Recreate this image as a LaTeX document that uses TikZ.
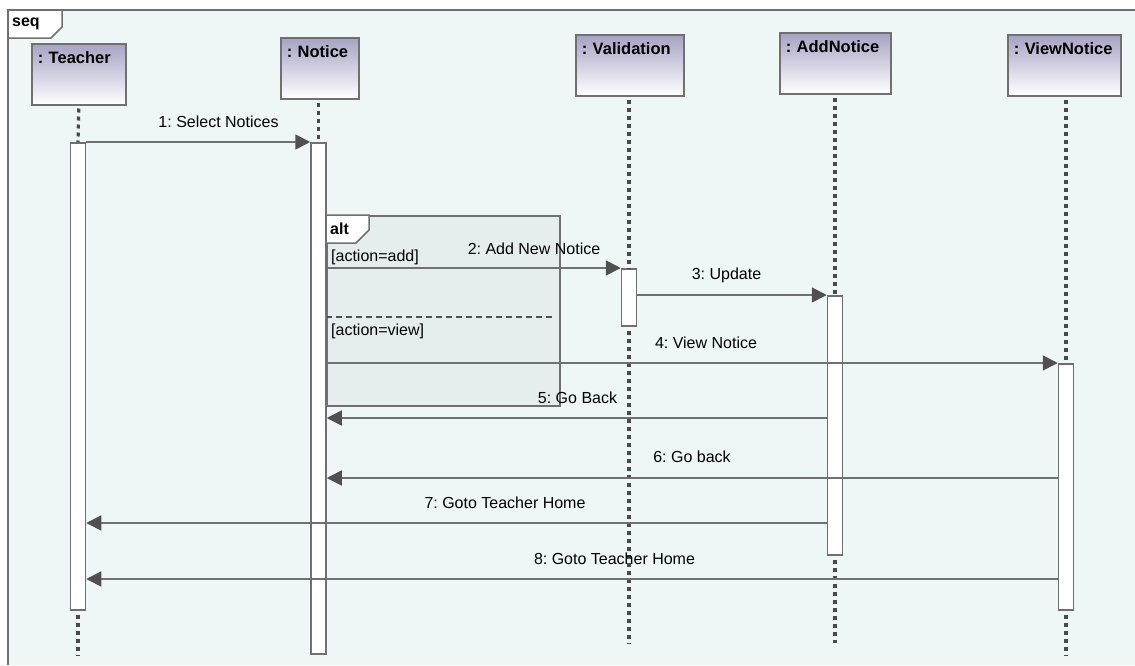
\documentclass[tikz,border=0pt]{standalone}
\usepackage{fontspec}
\setmainfont{Liberation Sans}
\usetikzlibrary{arrows.meta}
\definecolor{bgc}{HTML}{EEF6F6}
\definecolor{altc}{HTML}{E5EDED}
\definecolor{linec}{HTML}{707070}
\definecolor{headc}{HTML}{A6A2C3}
\definecolor{tipc}{HTML}{505050}
\definecolor{lifec}{HTML}{4A4A4A}
\frenchspacing

\begin{document}
\begin{tikzpicture}[x=1pt,y=-1pt,
  every node/.style={font=\fontsize{16}{18}\selectfont},
  head/.style={draw=linec, line width=1.5pt, top color=headc, bottom color=white,
    anchor=north west, inner ysep=0pt, inner xsep=6pt, align=left,
    text height=20pt, text depth=41pt, font=\fontsize{16.5}{18}\selectfont\bfseries},
  bar/.style={draw=linec, line width=1.5pt, fill=white, minimum width=15pt,
    inner sep=0pt, anchor=north},
  life/.style={draw=lifec, line width=3.2pt, dash pattern=on 4pt off 4pt},
  msg/.style={draw=linec, line width=1.6pt, -{Triangle[length=15pt,width=15pt,color=tipc]}},
  lbl/.style={inner sep=0pt},
  tabtext/.style={inner sep=0pt, anchor=west, font=\fontsize{16}{18}\selectfont\bfseries},
]
\useasboundingbox (0,0) rectangle (1135,665);

% sequence frame
\fill[bgc] (8,10) rectangle (1135,665);
\draw[linec, line width=1.5pt] (8,665) -- (8,10) -- (1135,10);
\draw[linec, line width=1.5pt, fill=white] (8,10) -- (62,10) -- (62,27) -- (51,38) -- (8,38) -- cycle;
\node[tabtext] (seqlbl) at (12,24) {seq};

% lifeline heads
\node[head, text width=82pt]  (teacher) at (31,43)   {\mbox{: Teacher}};
\node[head, text width=66pt]  (notice)  at (280,37)  {\mbox{: Notice}};
\node[head, text width=96pt]  (valid)   at (575,34)  {\mbox{: Validation}};
\node[head, text width=99pt]  (addn)    at (779,32)  {\mbox{: AddNotice}};
\node[head, text width=101pt] (viewn)   at (1007,34) {\mbox{: ViewNotice}};

% alt combined fragment
\node[draw=linec, line width=1.5pt, fill=altc, minimum width=233pt, minimum height=190pt,
  anchor=north west, inner sep=0pt] (alt) at (326,215) {};
\draw[linec, line width=1.5pt, fill=white] (alt.north west) -- ++(43,0) -- ++(0,15)
  -- ++(-13,13) -- ++(-30,0) -- cycle;
\node[tabtext] (altlbl) at (330,229) {alt};
\coordinate (sepL) at (326,317);
\coordinate (sepR) at (553,317);
\draw[tipc, line width=1.6pt, dash pattern=on 6pt off 4pt] (sepL) -- (sepR);
\node[lbl, anchor=west] (g1) at (331,257) {[action=add]};
\node[lbl, anchor=west] (g2) at (331,331) {[action=view]};

% activation bars
\node[bar, minimum height=467pt] (tA) at (78,142)    {};
\node[bar, minimum height=511pt] (nA) at (318.5,142) {};
\node[bar, minimum height=57pt]  (vA) at (629,268)   {};
\node[bar, minimum height=259pt] (aA) at (835,295)   {};
\node[bar, minimum height=246pt] (wA) at (1066,363)  {};

% lifelines
\draw[life] ([yshift=-3pt]teacher.south) -- (tA.north);
\draw[life] ([yshift=-3pt]nA.north |- notice.south) -- (nA.north);
\draw[life] ([yshift=-3pt]vA.north |- valid.south) -- (vA.north);
\draw[life] ([yshift=-3pt]aA.north |- addn.south) -- (aA.north);
\draw[life] ([yshift=-3pt]wA.north |- viewn.south) -- (wA.north);
\coordinate (tEnd) at (78,656);
\coordinate (vEnd) at (629,643);
\coordinate (aEnd) at (835,643);
\coordinate (wEnd) at (1066,655);
\draw[life] ([yshift=-4pt]tA.south) -- (tEnd);
\draw[life] ([yshift=-4pt]vA.south) -- (vEnd);
\draw[life] ([yshift=-4pt]aA.south) -- (aEnd);
\draw[life] ([yshift=-4pt]wA.south) -- (wEnd);

% messages
\draw[msg] (tA.north east) -- (nA.north west);
\draw[msg] (nA.east |- vA.north) -- (vA.north west);
\draw[msg] (vA.east |- aA.north) -- (aA.north west);
\draw[msg] (nA.east |- wA.north) -- (wA.north west);
\draw[msg] (aA.west |- 0,418) -- (nA.east |- 0,418);
\draw[msg] (wA.west |- 0,478) -- (nA.east |- 0,478);
\draw[msg] (aA.west |- 0,523) -- (tA.east |- 0,523);
\draw[msg] (wA.west |- 0,579) -- (tA.east |- 0,579);

% message labels
\node[lbl] (m1) at (218.5,122) {1: Select Notices};
\node[lbl] (m2) at (534,249)   {2: Add New Notice};
\node[lbl] (m3) at (726.5,275) {3: Update};
\node[lbl] (m4) at (706,343)   {4: View Notice};
\node[lbl] (m5) at (577.5,398) {5: Go Back};
\node[lbl] (m6) at (692,457)   {6: Go back};
\node[lbl] (m7) at (505,503)   {7: Goto Teacher Home};
\node[lbl] (m8) at (614.5,559) {8: Goto Teacher Home};
\end{tikzpicture}
\end{document}
